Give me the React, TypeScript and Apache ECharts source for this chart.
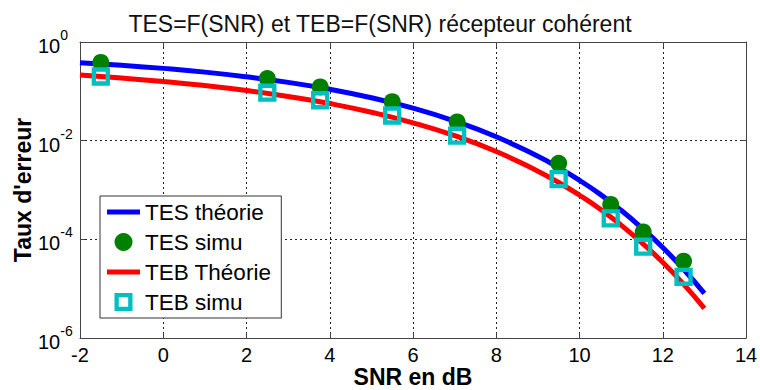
import React, { useEffect, useRef } from 'react';
import * as echarts from 'echarts';

const titleText = 'TES=F(SNR) et TEB=F(SNR) récepteur cohérent';
const xAxisName = 'SNR en dB';
const yAxisName = "Taux d'erreur";
const legendNames = ['TES théorie', 'TES simu', 'TEB Théorie', 'TEB simu'];

const snrTheory = [-2, -1, 0, 1, 2, 3, 4, 5, 6, 7, 8, 9, 9.5, 10, 10.5, 11, 11.5, 12, 12.5, 13];
const tesTheory = [0.381, 0.338, 0.292, 0.245, 0.197, 0.152, 0.11, 0.074, 0.0455, 0.025, 0.012, 0.00482, 0.00284, 0.00157, 8.15e-4, 3.88e-4, 1.69e-4, 6.84e-5, 2.47e-5, 8.0e-6];
const tebTheory = [0.2135, 0.1864, 0.1587, 0.131, 0.104, 0.0789, 0.0566, 0.0377, 0.023, 0.0126, 0.00602, 0.00241, 0.00142, 7.83e-4, 4.08e-4, 1.94e-4, 8.46e-5, 3.42e-5, 1.24e-5, 4.0e-6];

const snrSimu = [-1.5, 2.5, 3.77, 5.5, 7.06, 9.5, 10.75, 11.53, 12.5];
const tesSimu = [0.385, 0.182, 0.123, 0.0617, 0.024, 0.00347, 5.1e-4, 1.41e-4, 3.6e-5];
const tebSimu = [0.2, 0.094, 0.066, 0.0324, 0.0126, 0.00166, 2.66e-4, 7.1e-5, 1.74e-5];

const xMin = -2;
const xMax = 14;
const xStep = 2;
const yMin = 1e-6;
const yMax = 1;

const FONT = '"Liberation Sans", Arial, sans-serif';
const squareIcon = 'path://M0,0H18V18H0ZM4.3,4.3V13.7H13.7V4.3Z';
const lineIcon = 'path://M0,0H33V5H0Z';

function pairs(xs: number[], ys: number[]) {
  return xs.map((x, i) => [x, ys[i]]);
}

export default function App() {
  const ref = useRef<HTMLDivElement>(null);
  useEffect(() => {
    if (!ref.current) return;
    const chart = echarts.init(ref.current, null, { renderer: 'svg' });
    const axisColor = '#444';
    const gridLine = { show: true, lineStyle: { color: '#222', type: [2, 3] as any, width: 1 } };
    const frameLine = { show: true, onZero: false, lineStyle: { color: axisColor, width: 1 } };
    const tick = { show: true, inside: true, length: 5, lineStyle: { color: axisColor } };
    chart.setOption({
      animation: false,
      backgroundColor: '#fff',
      title: {
        text: titleText,
        left: 'center',
        top: 7,
        textStyle: { fontFamily: FONT, fontSize: 23, fontWeight: 'normal', color: '#111' },
      },
      grid: { left: 80, right: 14, top: 42, bottom: 52, containLabel: false, outerBoundsMode: 'none' },
      legend: {
        orient: 'vertical',
        left: 100,
        top: 196,
        padding: [4, 10, 4, 7],
        itemWidth: 33,
        itemHeight: 18,
        itemGap: 6,
        backgroundColor: '#fff',
        borderColor: '#333',
        borderWidth: 1,
        borderRadius: 0,
        selectedMode: false,
        itemStyle: { borderWidth: 0 },
        textStyle: { fontFamily: FONT, fontSize: 22.5, color: '#000', lineHeight: 24 },
        data: [
          { name: legendNames[0], icon: lineIcon },
          { name: legendNames[1], icon: 'circle' },
          { name: legendNames[2], icon: lineIcon },
          { name: legendNames[3], icon: squareIcon },
        ],
      },
      xAxis: [
        {
          type: 'value',
          min: xMin,
          max: xMax,
          interval: xStep,
          name: xAxisName,
          nameLocation: 'middle',
          nameGap: 29,
          nameMoveOverlap: false,
          nameTextStyle: { fontFamily: FONT, fontSize: 23, fontWeight: 'bold', color: '#000', lineHeight: 20 },
          axisLine: frameLine,
          axisTick: tick,
          axisLabel: { fontFamily: FONT, fontSize: 20, color: '#000', margin: 7 },
          splitLine: gridLine,
        },
        {
          type: 'value',
          position: 'top',
          min: xMin,
          max: xMax,
          interval: xStep,
          axisLine: frameLine,
          axisTick: tick,
          axisLabel: { show: false },
          splitLine: { show: false },
        },
      ],
      yAxis: [
        {
          type: 'log',
          logBase: 100,
          min: yMin,
          max: yMax,
          name: yAxisName,
          nameLocation: 'middle',
          nameGap: 46,
          nameMoveOverlap: false,
          nameTextStyle: { fontFamily: FONT, fontSize: 23, fontWeight: 'bold', color: '#000' },
          axisLine: frameLine,
          axisTick: tick,
          axisLabel: {
            align: 'left',
            margin: 42,
            formatter: (v: number) => `{b|10}{s|${Math.round(Math.log10(v))}}`,
            rich: {
              b: { fontFamily: FONT, fontSize: 20, color: '#000', lineHeight: 28, verticalAlign: 'bottom' },
              s: { fontFamily: FONT, fontSize: 14, color: '#000', lineHeight: 14, verticalAlign: 'top' },
            },
          },
          splitLine: gridLine,
        },
        {
          type: 'log',
          logBase: 100,
          min: yMin,
          max: yMax,
          position: 'right',
          axisLine: frameLine,
          axisTick: tick,
          axisLabel: { show: false },
          splitLine: { show: false },
        },
      ],
      series: [
        {
          name: legendNames[0],
          type: 'line',
          data: pairs(snrTheory, tesTheory),
          smooth: true,
          symbol: 'none',
          z: 2,
          lineStyle: { color: '#0000FF', width: 5 },
          itemStyle: { color: '#0000FF' },
        },
        {
          name: legendNames[1],
          type: 'scatter',
          data: pairs(snrSimu, tesSimu),
          symbol: 'circle',
          symbolSize: 17,
          z: 4,
          itemStyle: { color: '#008000', opacity: 1 },
        },
        {
          name: legendNames[2],
          type: 'line',
          data: pairs(snrTheory, tebTheory),
          smooth: true,
          symbol: 'none',
          z: 3,
          lineStyle: { color: '#FF0000', width: 5 },
          itemStyle: { color: '#FF0000' },
        },
        {
          name: legendNames[3],
          type: 'scatter',
          data: pairs(snrSimu, tebSimu),
          symbol: squareIcon,
          symbolSize: 18.3,
          z: 5,
          itemStyle: { color: '#00BFBF', opacity: 1 },
        },
      ],
    });
    return () => chart.dispose();
  }, []);
  return <div ref={ref} style={{ position: 'absolute', left: 0, top: 0, width: 760, height: 390 }} />;
}
